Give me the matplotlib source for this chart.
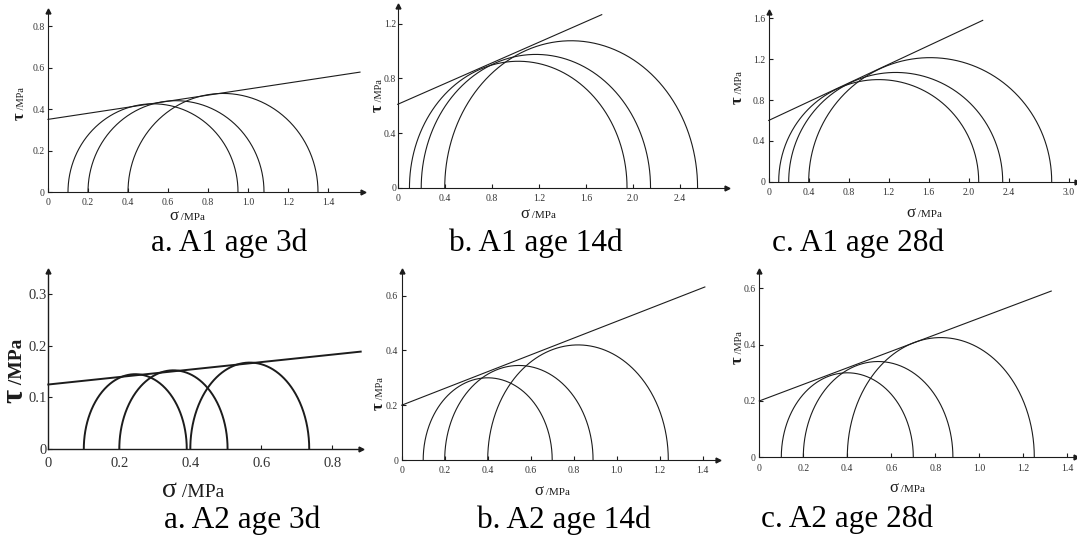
#!/usr/bin/env python3
"""Mohr circles with Mohr-Coulomb envelopes for A1 / A2 at 3, 14 and 28 days."""

import numpy as np
import matplotlib

matplotlib.use("Agg")
import matplotlib.pyplot as plt

plt.rcParams["font.family"] = ["Liberation Serif", "DejaVu Serif"]

# ---- data (MPa) ---------------------------------------------------------
PANEL_TITLES = [
    "a. A1 age 3d", "b. A1 age 14d", "c. A1 age 28d",
    "a. A2 age 3d", "b. A2 age 14d", "c. A2 age 28d",
]
SIGMA3 = [
    [0.1, 0.2, 0.4],
    [0.1, 0.2, 0.4],
    [0.1, 0.2, 0.4],
    [0.1, 0.2, 0.4],
    [0.1, 0.2, 0.4],
    [0.1, 0.2, 0.4],
]
SIGMA1 = [
    [0.95, 1.08, 1.35],
    [1.95, 2.15, 2.55],
    [2.10, 2.34, 2.83],
    [0.39, 0.505, 0.735],
    [0.70, 0.89, 1.24],
    [0.70, 0.88, 1.25],
]
COHESION = [0.35, 0.61, 0.60, 0.125, 0.20, 0.20]
FRICTION_SLOPE = [0.146, 0.378, 0.458, 0.0724, 0.306, 0.294]
ENVELOPE_END = [1.56, 1.735, 2.14, 0.88, 1.41, 1.327]
X_TICKS = [
    [0, 0.2, 0.4, 0.6, 0.8, 1.0, 1.2, 1.4],
    [0, 0.4, 0.8, 1.2, 1.6, 2.0, 2.4],
    [0, 0.4, 0.8, 1.2, 1.6, 2.0, 2.4, 3.0],
    [0, 0.2, 0.4, 0.6, 0.8],
    [0, 0.2, 0.4, 0.6, 0.8, 1.0, 1.2, 1.4],
    [0, 0.2, 0.4, 0.6, 0.8, 1.0, 1.2, 1.4],
]
Y_TICKS = [
    [0, 0.2, 0.4, 0.6, 0.8],
    [0, 0.4, 0.8, 1.2],
    [0, 0.4, 0.8, 1.2, 1.6],
    [0, 0.1, 0.2, 0.3],
    [0, 0.2, 0.4, 0.6],
    [0, 0.2, 0.4, 0.6],
]

# ---- layout (figure pixels, y measured from the top) ---------------------
W, H = 1077, 540
# origin x, origin y, px per MPa (x), px per MPa (y), axis length x, axis length y
PANEL_BOX = [
    (48.0, 192.0, 200.0, 207.5, 1.575, 0.87),
    (397.7, 187.7, 117.6, 136.7, 2.80, 1.33),
    (768.7, 181.7, 100.0, 102.1, 3.08, 1.66),
    (48.3, 449.0, 355.0, 516.0, 0.88, 0.345),
    (401.7, 460.0, 215.0, 274.0, 1.47, 0.69),
    (759.3, 457.3, 220.0, 281.7, 1.44, 0.66),
]
# (junction y, baseline x) of the tau label, (junction x, baseline y) of the sigma label
YLABEL_POS = [(112, 24), (104, 382), (96, 742), (389, 22), (402, 383), (356, 742)]
XLABEL_POS = [(178, 220), (529, 218), (915, 217), (177, 497), (543, 495), (898, 492)]
CAPTION_POS = [(229, 251), (536, 251), (858, 251), (242, 528), (564, 528), (847, 527)]
YTICK_PAD = [2.5, 1.0, 2.5, 0.8, 2.5, 2.5]
BIG = 3  # the A2 3d panel uses larger type and heavier strokes

INK = "#1c1c1c"


def fig_xy(px, py):
    return px / W, 1 - py / H


def draw_panel(fig, i):
    ox, oy, sx, sy, xmax, ymax = PANEL_BOX[i]
    big = i == BIG
    ax = fig.add_axes([ox / W, 1 - oy / H, xmax * sx / W, ymax * sy / H])
    ax.set_xlim(0, xmax)
    ax.set_ylim(0, ymax)
    ax.set_facecolor("none")
    for side in ("top", "right"):
        ax.spines[side].set_visible(False)
    for side in ("left", "bottom"):
        ax.spines[side].set_color(INK)
        ax.spines[side].set_linewidth(1.0 if big else 0.8)

    lw = 1.4 if big else 0.8
    theta = np.linspace(0, np.pi, 300)
    for s3, s1 in zip(SIGMA3[i], SIGMA1[i]):
        centre = (s1 + s3) / 2
        radius = (s1 - s3) / 2
        ax.plot(centre + radius * np.cos(theta), radius * np.sin(theta),
                color=INK, lw=lw, clip_on=False)
    xs = np.array([0, ENVELOPE_END[i]])
    ax.plot(xs, COHESION[i] + FRICTION_SLOPE[i] * xs, color=INK, lw=lw, clip_on=False)

    # axis arrow heads
    ax.plot(1, 0, ">", color=INK, ms=3.5, transform=ax.get_yaxis_transform(), clip_on=False)
    ax.plot(0, 1, "^", color=INK, ms=3.5, transform=ax.get_xaxis_transform(), clip_on=False)

    fmt = lambda v: "0" if v == 0 else f"{v:.1f}"
    ax.set_xticks(X_TICKS[i], [fmt(v) for v in X_TICKS[i]])
    ax.set_yticks(Y_TICKS[i], [fmt(v) for v in Y_TICKS[i]])
    tick_size = 10.5 if big else 7
    ax.tick_params(axis="both", direction="in", length=3, width=0.8, color=INK,
                   labelsize=tick_size, labelcolor="#333333")
    ax.tick_params(axis="x", pad=6 if big else 4.5)
    ax.tick_params(axis="y", pad=YTICK_PAD[i])

    # tau label, rotated: greek letter below, unit above
    jy, bx = YLABEL_POS[i]
    tx, ty = fig_xy(bx, jy)
    fig.text(tx, ty, "τ", rotation=90, rotation_mode="anchor", ha="right", va="baseline",
             fontsize=22 if big else 12, fontweight="bold", color=INK)
    fig.text(tx, ty, " /MPa", rotation=90, rotation_mode="anchor", ha="left", va="baseline",
             fontsize=14 if big else 7.5, fontweight="bold" if big else "normal", color=INK)

    # sigma label
    jx, by = XLABEL_POS[i]
    tx, ty = fig_xy(jx, by)
    fig.text(tx, ty, "σ", ha="right", va="baseline", fontsize=20 if big else 12, color=INK)
    fig.text(tx, ty, " /MPa", ha="left", va="baseline", fontsize=14 if big else 8, color=INK)

    cx, cy = fig_xy(*CAPTION_POS[i])
    fig.text(cx, cy, PANEL_TITLES[i], ha="center", va="baseline", fontsize=22.5, color="black")


def main():
    fig = plt.figure(figsize=(W / 100, H / 100), dpi=100)
    for i in range(len(PANEL_TITLES)):
        draw_panel(fig, i)
    fig.savefig("out.png", dpi=100, facecolor="white")
    plt.close(fig)


if __name__ == "__main__":
    main()
